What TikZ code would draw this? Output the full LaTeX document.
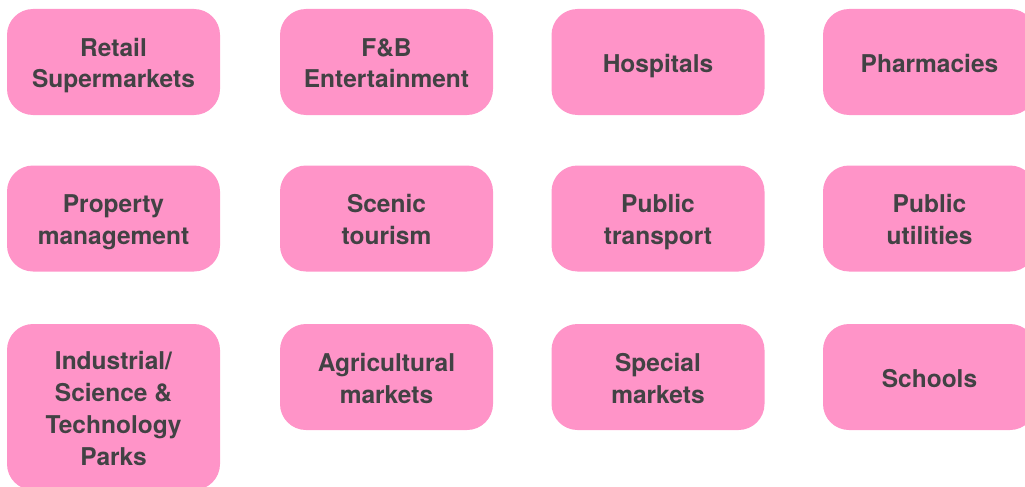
\documentclass[tikz,border=0pt]{standalone}
\usepackage{fontspec}
\setmainfont{TeX Gyre Heros}
\definecolor{boxpink}{RGB}{255,148,200}
\definecolor{labelgray}{RGB}{66,66,68}
% every text line gets the same height and depth, so labels sit alike
\newcommand\ls{\rule[-6pt]{0pt}{32pt}}
\begin{document}
\begin{tikzpicture}[x=1pt,y=-1pt,
  sector/.style={fill=boxpink, draw=none, rounded corners=26pt,
    minimum width=213pt, minimum height=106pt, inner sep=0pt,
    align=center, text=labelgray,
    font=\fontsize{24.5pt}{32pt}\selectfont\bfseries}]
  \useasboundingbox (0,0) rectangle (1025,487);
  \clip (0,0) rectangle (1025,487);
  % first row
  \node[sector] (retail)   at (113.5,62) {\ls Retail\\\ls Supermarkets};
  \node[sector] (fnb)      at (386.5,62) {\ls F\&B\\\ls Entertainment};
  \node[sector] (hosp)     at (658,62)   {\ls Hospitals};
  \node[sector] (pharm)    at (929.5,62) {\ls Pharmacies};
  % second row
  \node[sector] (property) at (113.5,218.5) {\ls Property\\\ls management};
  \node[sector] (scenic)   at (386.5,218.5) {\ls Scenic\\\ls tourism};
  \node[sector] (transport)at (658,218.5)   {\ls Public\\\ls transport};
  \node[sector] (utility)  at (929.5,218.5) {\ls Public\\\ls utilities};
  % third row
  \node[sector, minimum height=166pt] (parks) at (113.5,407)
    {\ls Industrial/\\\ls Science \&\\\ls Technology\\\ls Parks};
  \node[sector] (agri)     at (386.5,377) {\ls Agricultural\\\ls markets};
  \node[sector] (special)  at (658,377)   {\ls Special\\\ls markets};
  \node[sector] (schools)  at (929.5,377) {\ls Schools};
\end{tikzpicture}
\end{document}
